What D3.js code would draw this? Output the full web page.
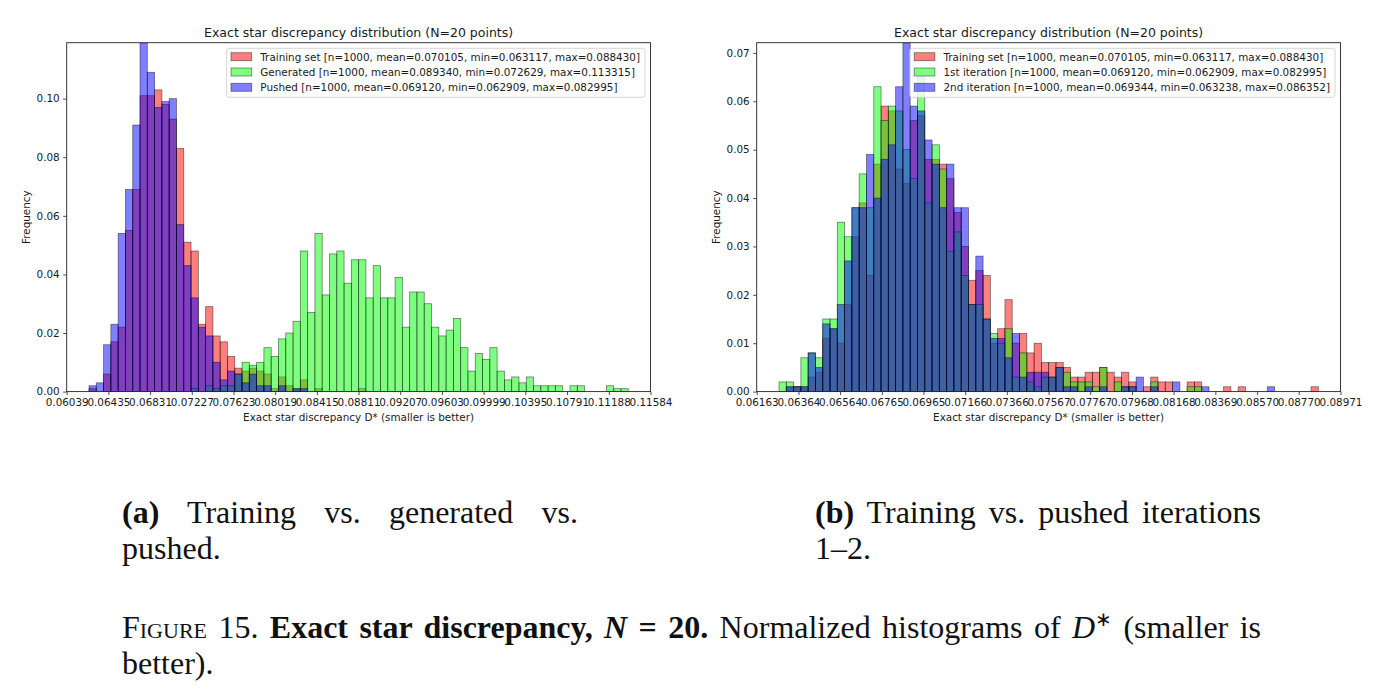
<!DOCTYPE html>
<html lang="en">
<head>
<meta charset="utf-8">
<title>Exact star discrepancy, N = 20</title>
<script src="https://d3js.org/d3.v7.min.js"></script>
<style type="text/css">
	body { margin: 0; background: #fff; }
	#page { position: relative; width: 1383px; height: 699px; overflow: hidden; }
	#page svg { position: absolute; left: 0; top: 0; }
	svg text { font-family: "DejaVu Sans", sans-serif; fill: #1a1a1a; }
	.caption {
		position: absolute;
		font-family: "Liberation Serif", "Times New Roman", serif;
		font-size: 32px;
		line-height: 36px;
		color: #111;
		white-space: nowrap;
	}
	.just { white-space: normal; text-align: justify; text-align-last: justify; }
	.sc { font-variant: small-caps; }
</style>
</head>
<body>
<div id="page">
	<div class="caption" style="left:122px; top:494px; width:456px;">
		<div class="just"><b>(a)</b> Training vs. generated vs.</div>
		<div>pushed.</div>
	</div>
	<div class="caption" style="left:815px; top:494px; width:446px;">
		<div class="just"><b>(b)</b> Training vs. pushed iterations</div>
		<div>1–2.</div>
	</div>
	<div class="caption" style="left:122px; top:609px; width:1139px;">
		<div class="just"><span class="sc">Figure</span> 15. <b>Exact star discrepancy, <i>N</i> = 20.</b> Normalized histograms of <i>D</i><sup style="font-size:20px; line-height:0;">∗</sup> (smaller is</div>
		<div>better).</div>
	</div>
</div>
<script type="text/javascript">
	var w = 1383;
	var h = 699;

	// ---- panel (a): training vs generated vs pushed ----
	var binStartA = 0.062508;
	var binWidthA = 0.0006922;
	var trainingA = [0.001, 0, 0.006, 0.017, 0.022, 0.055, 0.069, 0.101, 0.101, 0.103,
		0.098, 0.093, 0.083, 0.051, 0.048, 0.023, 0.029, 0.019, 0.017, 0.012,
		0.008, 0.007, 0.008, 0.007, 0.006, 0.001, 0.005, 0.002, 0.001, 0.004,
		0, 0.001, 0, 0, 0, 0, 0, 0.001];
	var generatedA = [0, 0, 0, 0, 0, 0, 0, 0, 0, 0,
		0, 0, 0, 0, 0.001, 0, 0.002, 0.001, 0.002, 0.002,
		0.006, 0.010, 0.009, 0.010, 0.015, 0.012, 0.018, 0.020, 0.024, 0.048,
		0.027, 0.054, 0.033, 0.047, 0.048, 0.037, 0.045, 0.045, 0.032, 0.043,
		0.032, 0.032, 0.039, 0.022, 0.034, 0.034, 0.030, 0.022, 0.019, 0.021,
		0.025, 0.015, 0.007, 0.013, 0.011, 0.015, 0.007, 0.004, 0.005, 0.003,
		0.005, 0.002, 0.002, 0.002, 0.002, 0, 0.002, 0.002, 0, 0,
		0, 0.002, 0.001, 0.001];
	var pushedA = [0.002, 0.003, 0.016, 0.023, 0.054, 0.069, 0.091, 0.119, 0.109, 0.097,
		0.099, 0.100, 0.057, 0.043, 0.032, 0.022, 0.019, 0.010, 0.004, 0.007,
		0.006, 0.003, 0.006, 0.002, 0.002, 0, 0.002, 0, 0.001, 0.001];
	var xTicksA = [0.06039, 0.06435, 0.06831, 0.07227, 0.07623, 0.08019, 0.08415, 0.08811,
		0.09207, 0.09603, 0.09999, 0.10395, 0.10791, 0.11188, 0.11584];
	var yTicksA = [0, 0.02, 0.04, 0.06, 0.08, 0.10];
	var yMaxA = 0.1191;
	var labelsA = [
		"Training set [n=1000, mean=0.070105, min=0.063117, max=0.088430]",
		"Generated [n=1000, mean=0.089340, min=0.072629, max=0.113315]",
		"Pushed [n=1000, mean=0.069120, min=0.062909, max=0.082995]"
	];

	// ---- panel (b): training vs pushed iterations 1-2 ----
	var binStartB = 0.062703;
	var binWidthB = 0.00035055;
	var trainingB = [0, 0.001, 0.001, 0.001, 0.003, 0.004, 0.011, 0.013, 0.010, 0.018,
		0.032, 0.039, 0.024, 0.047, 0.059, 0.058, 0.046, 0.043, 0.056, 0.057,
		0.048, 0.048, 0.047, 0.044, 0.037, 0.030, 0.023, 0.025, 0.024, 0.010,
		0.013, 0.019, 0.010, 0.012, 0.008, 0.010, 0.006, 0.006, 0.006, 0.005,
		0.003, 0.003, 0.004, 0.004, 0.005, 0.004, 0.003, 0.004, 0.002, 0,
		0.001, 0.003, 0.002, 0.002, 0, 0, 0.002, 0.002, 0, 0,
		0, 0.001, 0, 0.001, 0, 0, 0, 0, 0, 0,
		0, 0, 0, 0.001];
	var iter1B = [0.002, 0.002, 0.001, 0.007, 0.008, 0.007, 0.015, 0.015, 0.035, 0.032,
		0.038, 0.045, 0.038, 0.063, 0.056, 0.059, 0.058, 0.050, 0.044, 0.065,
		0.039, 0.051, 0.046, 0.029, 0.033, 0.024, 0.018, 0.018, 0.015, 0.012,
		0.010, 0.013, 0.003, 0.008, 0.002, 0.001, 0.003, 0.003, 0.005, 0.004,
		0.002, 0.002, 0.002, 0.001, 0.005, 0, 0.002, 0.001, 0.001, 0,
		0, 0.002, 0, 0, 0, 0, 0.001, 0.001];
	var iter2B = [0, 0.001, 0.001, 0.001, 0.008, 0.005, 0.014, 0.013, 0.018, 0.027,
		0.038, 0.038, 0.049, 0.040, 0.048, 0.051, 0.063, 0.072, 0.059, 0.058,
		0.052, 0.047, 0.038, 0.047, 0.038, 0.038, 0.018, 0.028, 0.015, 0.011,
		0.011, 0.007, 0.012, 0.003, 0.004, 0.004, 0.004, 0.003, 0.005, 0.001,
		0.001, 0, 0.001, 0, 0.001, 0, 0, 0.001, 0.001, 0.003,
		0, 0.001, 0, 0, 0.002, 0, 0, 0, 0.001, 0,
		0, 0, 0, 0, 0, 0, 0, 0.001];
	var xTicksB = [0.06163, 0.06364, 0.06564, 0.06765, 0.06965, 0.07166, 0.07366, 0.07567,
		0.07767, 0.07968, 0.08168, 0.08369, 0.08570, 0.08770, 0.08971];
	var yTicksB = [0, 0.01, 0.02, 0.03, 0.04, 0.05, 0.06, 0.07];
	var yMaxB = 0.0721;
	var labelsB = [
		"Training set [n=1000, mean=0.070105, min=0.063117, max=0.088430]",
		"1st iteration [n=1000, mean=0.069120, min=0.062909, max=0.082995]",
		"2nd iteration [n=1000, mean=0.069344, min=0.063238, max=0.086352]"
	];

	var colors = ["#ff0000", "#00ff00", "#0000ff"];
	var titleText = "Exact star discrepancy distribution (N=20 points)";
	var xLabelText = "Exact star discrepancy D* (smaller is better)";

	var svg = d3.select("#page")
		.append("svg")
		.attr("width", w)
		.attr("height", h);

	function drawPanel(p) {
		var xScale = d3.scaleLinear()
			.domain([p.xTicks[0], p.xTicks[p.xTicks.length - 1]])
			.range([p.left, p.right]);
		var yScale = d3.scaleLinear()
			.domain([0, p.yMax])
			.range([p.bottom, p.top]);

		svg.append("clipPath")
			.attr("id", "clip-" + p.id)
			.append("rect")
			.attr("x", p.left)
			.attr("y", p.top)
			.attr("width", p.right - p.left)
			.attr("height", p.bottom - p.top);

		var plot = svg.append("g").attr("clip-path", "url(#clip-" + p.id + ")");

		// bars: one layer per series, drawn in legend order
		p.series.forEach(function(values, s) {
			var bins = values.map(function(v, i) { return {i: i, v: v}; })
				.filter(function(d) { return d.v > 0; });
			plot.append("g")
				.selectAll("rect")
				.data(bins)
				.enter()
				.append("rect")
				.attr("x", function(d) { return xScale(p.binStart + d.i * p.binWidth); })
				.attr("width", function(d) {
					return xScale(p.binStart + (d.i + 1) * p.binWidth) - xScale(p.binStart + d.i * p.binWidth);
				})
				.attr("y", function(d) { return yScale(d.v); })
				.attr("height", function(d) { return yScale(0) - yScale(d.v); })
				.attr("fill", colors[s])
				.attr("fill-opacity", 0.5)
				.attr("stroke", "#000")
				.attr("stroke-opacity", 0.5)
				.attr("stroke-width", 0.8);
		});

		// axes
		var xAxis = svg.append("g")
			.attr("transform", "translate(0," + p.bottom + ")")
			.call(d3.axisBottom(xScale)
				.tickValues(p.xTicks)
				.tickFormat(d3.format(".5f"))
				.tickSize(3.5)
				.tickSizeOuter(0)
				.tickPadding(3.5));
		var yAxis = svg.append("g")
			.attr("transform", "translate(" + p.left + ",0)")
			.call(d3.axisLeft(yScale)
				.tickValues(p.yTicks)
				.tickFormat(d3.format(".2f"))
				.tickSize(3.5)
				.tickSizeOuter(0)
				.tickPadding(3.5));
		[xAxis, yAxis].forEach(function(a) {
			a.select(".domain").remove();
			a.attr("font-family", null).attr("font-size", null);
			a.selectAll(".tick line").attr("stroke", "#222").attr("stroke-width", 0.8);
			a.selectAll(".tick text").style("font-size", "10.4px").attr("fill", "#1a1a1a");
		});

		// frame
		svg.append("rect")
			.attr("x", p.left)
			.attr("y", p.top)
			.attr("width", p.right - p.left)
			.attr("height", p.bottom - p.top)
			.attr("fill", "none")
			.attr("stroke", "#222")
			.attr("stroke-width", 0.9);

		// title and axis labels
		svg.append("text")
			.attr("x", (p.left + p.right) / 2)
			.attr("y", 36.5)
			.attr("text-anchor", "middle")
			.style("font-size", "12.5px")
			.text(titleText);
		svg.append("text")
			.attr("x", (p.left + p.right) / 2)
			.attr("y", 420.5)
			.attr("text-anchor", "middle")
			.style("font-size", "10.4px")
			.text(xLabelText);
		svg.append("text")
			.attr("transform", "translate(" + (p.left - 36.5) + "," + ((p.top + p.bottom) / 2) + ") rotate(-90)")
			.attr("text-anchor", "middle")
			.style("font-size", "10.4px")
			.text("Frequency");

		// legend, upper right
		var legend = svg.append("g");
		var box = legend.append("rect")
			.attr("fill", "#fff")
			.attr("fill-opacity", 0.8)
			.attr("stroke", "#d0d0d0")
			.attr("stroke-width", 0.9)
			.attr("rx", 2.5);
		var maxW = 0;
		var texts = [];
		p.labels.forEach(function(label, i) {
			var cy = p.top + 14 + i * 15.3;
			legend.append("rect")
				.attr("y", cy - 4)
				.attr("width", 20.7)
				.attr("height", 8)
				.attr("class", "patch")
				.attr("fill", colors[i])
				.attr("fill-opacity", 0.5)
				.attr("stroke", "#000")
				.attr("stroke-opacity", 0.5)
				.attr("stroke-width", 0.8);
			var t = legend.append("text")
				.attr("y", cy + 3.8)
				.style("font-size", "10.4px")
				.text(label);
			texts.push(t);
			maxW = Math.max(maxW, t.node().getComputedTextLength());
		});
		var boxRight = p.right - 5.5;
		var boxLeft = boxRight - (maxW + 4.3 + 29.3 + 5);
		box.attr("x", boxLeft)
			.attr("y", p.top + 5.6)
			.attr("width", boxRight - boxLeft)
			.attr("height", 49);
		legend.selectAll("rect.patch").attr("x", boxLeft + 4.3);
		texts.forEach(function(t) { t.attr("x", boxLeft + 4.3 + 29.3); });
	}

	drawPanel({
		id: "a", left: 66.7, right: 650.5, top: 42.7, bottom: 391.6,
		xTicks: xTicksA, yTicks: yTicksA, yMax: yMaxA,
		binStart: binStartA, binWidth: binWidthA,
		series: [trainingA, generatedA, pushedA],
		labels: labelsA
	});
	drawPanel({
		id: "b", left: 756.7, right: 1340.5, top: 42.7, bottom: 391.6,
		xTicks: xTicksB, yTicks: yTicksB, yMax: yMaxB,
		binStart: binStartB, binWidth: binWidthB,
		series: [trainingB, iter1B, iter2B],
		labels: labelsB
	});
</script>
</body>
</html>
